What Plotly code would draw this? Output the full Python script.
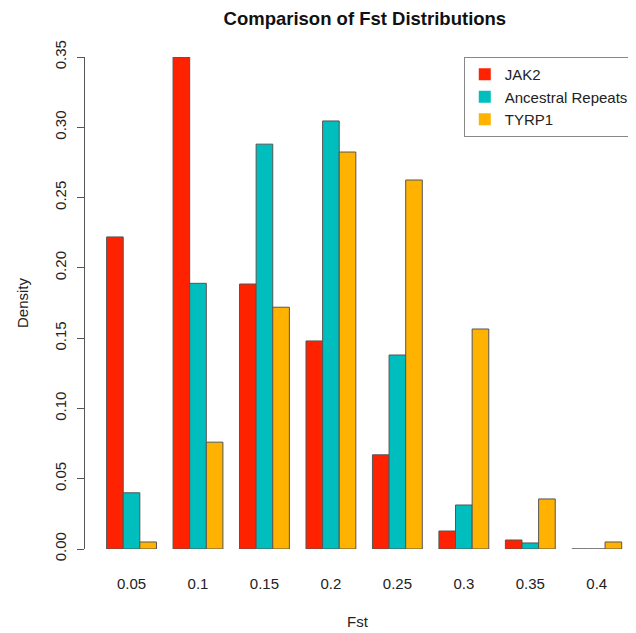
import plotly.graph_objects as go

categories = ["0.05", "0.1", "0.15", "0.2", "0.25", "0.3", "0.35", "0.4"]
jak2 = [0.222, 0.350, 0.1885, 0.148, 0.067, 0.0128, 0.0064, 0.0]
ancestral = [0.040, 0.189, 0.288, 0.3045, 0.138, 0.0313, 0.0043, 0.0]
tyrp1 = [0.005, 0.076, 0.172, 0.2824, 0.2625, 0.1565, 0.0356, 0.005]
series_names = ["JAK2", "Ancestral Repeats", "TYRP1"]
series_colors = ["#FF2200", "#00BEBE", "#FFB300"]
y_ticks = [0, 0.05, 0.10, 0.15, 0.20, 0.25, 0.30, 0.35]
y_tick_labels = ["0.00", "0.05", "0.10", "0.15", "0.20", "0.25", "0.30", "0.35"]

fig = go.Figure()
for name, vals, col in zip(series_names, [jak2, ancestral, tyrp1], series_colors):
    fig.add_trace(go.Bar(x=categories, y=vals, name=name, marker_color=col,
                         marker_line=dict(color="#555555", width=1), showlegend=False))
    fig.add_trace(go.Scatter(x=[None], y=[None], mode="markers", name=name,
                             marker=dict(symbol="square", size=8, color=col)))

fig.update_layout(
    width=650, height=633,
    margin=dict(l=77.4, r=28, t=49, b=92),
    paper_bgcolor="white", plot_bgcolor="white",
    font=dict(family="Liberation Sans, Arial, sans-serif", size=15, color="#222222"),
    title=dict(text="<b>Comparison of Fst Distributions</b>", x=0.549, xanchor="center",
               y=0.984, yanchor="middle", font=dict(size=18.5, color="#111111")),
    barmode="group", bargap=0.25, bargroupgap=0,
    legend=dict(x=0.695, y=1.0, xanchor="left", yanchor="top",
                bordercolor="#888888", borderwidth=1, bgcolor="white",
                font=dict(size=15), tracegroupgap=0, itemsizing="constant"),
)
fig.update_xaxes(type="category", range=[-0.7, 7.5], showgrid=False, zeroline=False,
                 showline=False, ticks="", tickfont=dict(size=15), ticklabelstandoff=24,
                 title=dict(text="Fst", font=dict(size=15), standoff=25))
fig.update_yaxes(range=[0, 0.35], tickvals=y_ticks, ticktext=y_tick_labels,
                 showgrid=False, zeroline=False, showline=True, linecolor="#555555",
                 ticks="outside", ticklen=7, tickcolor="#555555", tickangle=-90,
                 tickfont=dict(size=15), ticklabelstandoff=5,
                 title=dict(text="Density", font=dict(size=15), standoff=19))

fig.write_html("out.html")
